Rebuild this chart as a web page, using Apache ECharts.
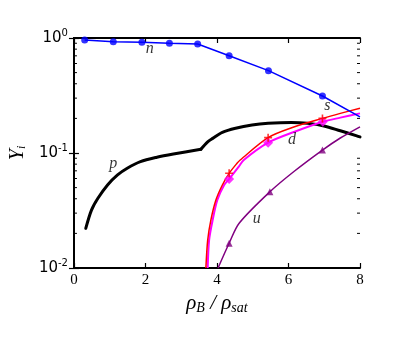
<!DOCTYPE html>
<html>
<head>
<meta charset="utf-8">
<script src="https://cdn.jsdelivr.net/npm/echarts@6/dist/echarts.min.js"></script>
<style>html,body{margin:0;padding:0;background:#fff}#c{width:399px;height:337px}</style>
</head>
<body>
<div id="c"></div>
<script>
// ---- data ----
const xTicks = [0, 2, 4, 6, 8];
const yMajor = [0.01, 0.1, 1];
const yMinor = [0.02,0.03,0.04,0.05,0.06,0.07,0.08,0.09,0.2,0.3,0.4,0.5,0.6,0.7,0.8,0.9];

const nX = [0.30, 1.10, 1.90, 2.67, 3.46, 4.34, 5.44, 6.95, 8.00];
const nY = [0.961, 0.929, 0.917, 0.899, 0.887, 0.700, 0.520, 0.313, 0.206];
const nMarkCount = 8;

// p: before and after the kink at rho ~ 3.55
const pX1 = [0.33, 0.49, 0.67, 0.94, 1.22, 1.49, 1.86, 2.32, 2.78, 3.55];
const pY1 = [0.0221, 0.0319, 0.0404, 0.0527, 0.0644, 0.0736, 0.0840, 0.0918, 0.0980, 0.1077];
const pX2 = [3.55, 3.74, 3.88, 4.15, 4.52, 4.98, 5.43, 6.08, 6.53, 6.99, 7.45, 7.91, 8.00];
const pY2 = [0.1077, 0.125, 0.134, 0.151, 0.164, 0.175, 0.181, 0.184, 0.181, 0.172, 0.156, 0.141, 0.138];

const sX = [3.69, 3.74, 3.83, 3.97, 4.15, 4.34, 4.56, 4.65, 5.43, 6.17, 6.95, 7.45, 8.00];
const sY = [0.010, 0.0175, 0.0262, 0.039, 0.0527, 0.0666, 0.0813, 0.087, 0.136, 0.169, 0.200, 0.221, 0.245];
const sMarkX = [4.34, 5.43, 6.95];
const sMarkY = [0.0666, 0.136, 0.200];

const dX = [3.74, 3.78, 3.88, 4.01, 4.20, 4.34, 4.61, 4.75, 5.43, 6.17, 6.96, 7.45, 8.00];
const dY = [0.010, 0.0175, 0.0262, 0.039, 0.0527, 0.0594, 0.076, 0.087, 0.123, 0.153, 0.187, 0.203, 0.221];
const dMarkX = [4.34, 5.43, 6.96];
const dMarkY = [0.0594, 0.123, 0.187];

const uX = [4.03, 4.34, 4.62, 5.48, 6.17, 6.95, 7.45, 8.00];
const uY = [0.010, 0.0164, 0.0245, 0.046, 0.0697, 0.106, 0.135, 0.169];
const uMarkX = [4.34, 5.48, 6.95];
const uMarkY = [0.0164, 0.046, 0.106];

const labelNames = ['n', 'p', 's', 'd', 'u'];
const labelX = [2.12, 1.10, 7.09, 6.10, 5.11];
const labelY = [0.80, 0.080, 0.256, 0.130, 0.0267];

// ---- build chart ----
const zip = (xs, ys) => xs.map((x, i) => [x, ys[i]]);
const chart = echarts.init(document.getElementById('c'), null, {renderer: 'canvas'});

const plus = 'path://M4,0 L6,0 L6,4 L10,4 L10,6 L6,6 L6,10 L4,10 L4,6 L0,6 L0,4 L4,4 Z';

const axisLineStyle = {color: '#000', width: 2};
const lineBase = {type: 'line', showSymbol: false, smooth: 0.3, z: 3};
const option = {
  animation: false,
  backgroundColor: '#fff',
  grid: {left: 69, top: 38, right: 39, bottom: 69, containLabel: false},
  xAxis: [{
    type: 'value', min: 0, max: 8, interval: 2, position: 'bottom',
    axisLine: {show: true, lineStyle: axisLineStyle},
    axisTick: {show: true, inside: true, length: 5, lineStyle: {color: '#000', width: 1.2}},
    axisLabel: {show: true, margin: 5, color: '#000', fontFamily: 'Liberation Serif', fontSize: 15},
    splitLine: {show: false},
    name: '{a|ρ}{sub|B}{a| / ρ}{sub|sat}',
    nameLocation: 'middle', nameGap: 22,
    nameTextStyle: {
      rich: {
        a: {fontFamily: 'Liberation Serif', fontStyle: 'italic', fontSize: 21, color: '#000'},
        sub: {fontFamily: 'Liberation Serif', fontStyle: 'italic', fontSize: 14, color: '#000', padding: [10, 0, 0, 0]}
      }
    }
  }, {
    type: 'value', min: 0, max: 8, interval: 2, position: 'top',
    axisLine: {show: true, lineStyle: axisLineStyle},
    axisTick: {show: true, inside: true, length: 5, lineStyle: {color: '#000', width: 1.2}},
    axisLabel: {show: false}, splitLine: {show: false}
  }],
  yAxis: [{
    type: 'log', logBase: 10, min: 0.01, max: 1, position: 'left',
    axisLine: {show: true, lineStyle: axisLineStyle},
    axisTick: {show: true, inside: true, length: 5, lineStyle: {color: '#000', width: 1.2}},
    axisLabel: {
      show: true, margin: 6, color: '#000',
      formatter: v => '{b|10}{s|' + Math.round(Math.log10(v)) + '}',
      rich: {
        b: {fontFamily: 'DejaVu Sans', fontSize: 15, color: '#000'},
        s: {fontFamily: 'DejaVu Sans', fontSize: 10, color: '#000', padding: [0, 0, 9, 0]}
      }
    },
    splitLine: {show: false},
    name: '{y|Y}{i|i}',
    nameLocation: 'middle', nameGap: 44,
    nameTextStyle: {
      rich: {
        y: {fontFamily: 'Liberation Serif', fontStyle: 'italic', fontSize: 20, color: '#000'},
        i: {fontFamily: 'Liberation Serif', fontStyle: 'italic', fontSize: 12, color: '#000', padding: [8, 0, 0, 0]}
      }
    }
  }, {
    type: 'log', logBase: 10, min: 0.01, max: 1, position: 'right',
    axisLine: {show: true, lineStyle: axisLineStyle},
    axisTick: {show: true, inside: true, length: 5, lineStyle: {color: '#000', width: 1.2}},
    axisLabel: {show: false}, splitLine: {show: false}
  }],
  series: [
    {
      type: 'custom', name: 'minorTicks', silent: true, clip: false,
      data: yMinor.map(v => [0, v]),
      renderItem: (params, api) => {
        const v = api.value(1);
        const pL = api.coord([0, v]);
        const pR = api.coord([8, v]);
        return {type: 'group', children: [
          {type: 'line', shape: {x1: pL[0], y1: pL[1], x2: pL[0] + 3, y2: pL[1]}, style: {stroke: '#000', lineWidth: 1}},
          {type: 'line', shape: {x1: pR[0], y1: pR[1], x2: pR[0] - 3, y2: pR[1]}, style: {stroke: '#000', lineWidth: 1}}
        ]};
      }
    },
    Object.assign({}, lineBase, {name: 'p', data: zip(pX1, pY1), lineStyle: {color: '#000', width: 3, cap: 'round'}}),
    Object.assign({}, lineBase, {name: 'p2', data: zip(pX2, pY2), lineStyle: {color: '#000', width: 3, cap: 'round'}}),
    Object.assign({}, lineBase, {name: 'u', data: zip(uX, uY), lineStyle: {color: '#800080', width: 1.5}}),
    {type: 'scatter', data: zip(uMarkX, uMarkY), symbol: 'triangle', symbolSize: 7,
      itemStyle: {color: '#800080'}, z: 4},
    Object.assign({}, lineBase, {name: 'd', data: zip(dX, dY), lineStyle: {color: '#ff00ff', width: 2}}),
    {type: 'scatter', data: zip(dMarkX, dMarkY), symbol: 'diamond', symbolSize: 10,
      itemStyle: {color: '#ff00ff'}, z: 4},
    Object.assign({}, lineBase, {name: 's', data: zip(sX, sY), lineStyle: {color: '#ff0000', width: 1.5}}),
    {type: 'scatter', data: zip(sMarkX, sMarkY), symbol: plus, symbolSize: 8,
      itemStyle: {color: '#ff0000'}, z: 4},
    {type: 'line', name: 'n', data: zip(nX, nY), showSymbol: false,
      lineStyle: {color: '#0000ff', width: 1.5}, z: 3},
    {type: 'scatter', data: zip(nX.slice(0, nMarkCount), nY.slice(0, nMarkCount)), symbol: 'circle', symbolSize: 7,
      itemStyle: {color: '#0000ff'}, z: 4},
    {type: 'scatter', name: 'labels', silent: true, symbolSize: 0,
      data: labelNames.map((n, i) => ({name: n, value: [labelX[i], labelY[i]]})),
      label: {show: true, position: 'inside', formatter: p => p.name,
        fontFamily: 'Liberation Serif', fontStyle: 'italic', fontSize: 16, color: '#000'},
      z: 5}
  ]
};
chart.setOption(option);
</script>
</body>
</html>
